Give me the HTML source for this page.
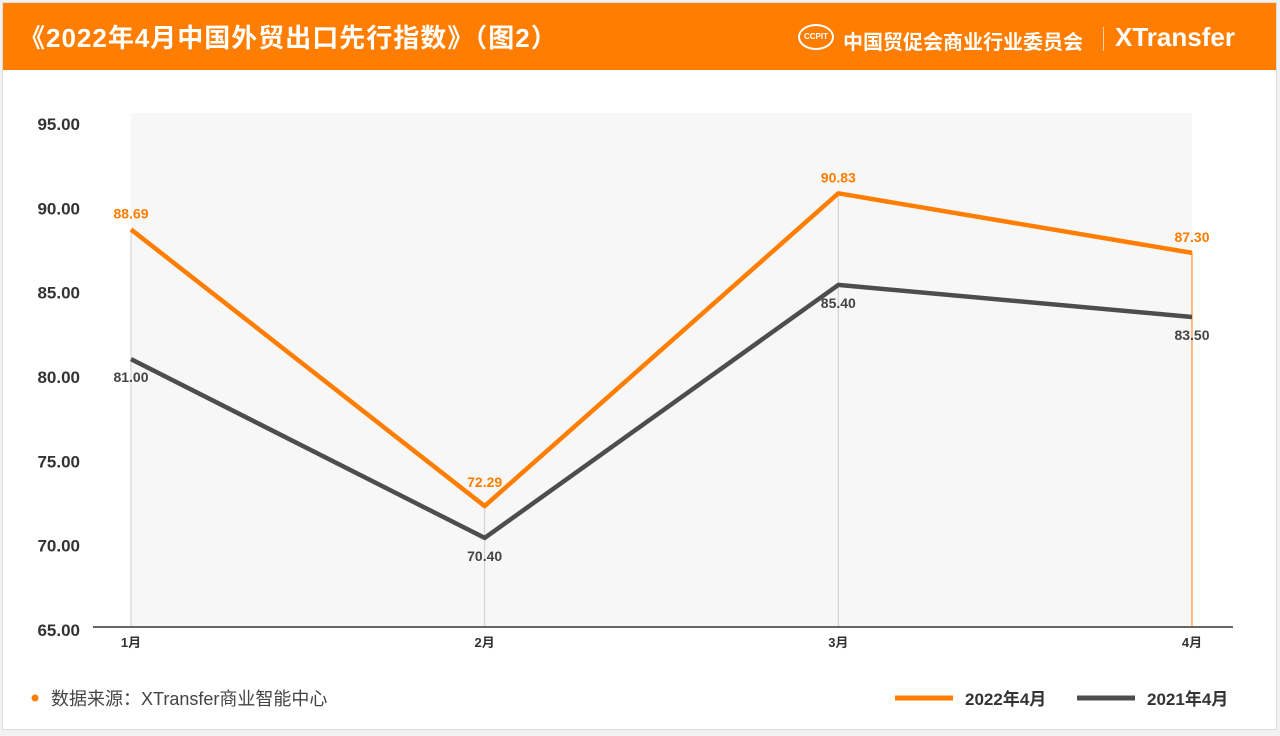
<!DOCTYPE html>
<html><head><meta charset="utf-8">
<style>
body{margin:0;width:1280px;height:736px;background:#f2f2f2;font-family:"Liberation Sans","Noto Sans CJK SC",sans-serif;overflow:hidden}
#card{position:absolute;left:2px;top:2px;width:1273px;height:726px;background:#fff;border:1px solid #ddd}
#hdr{position:absolute;left:0;top:0;width:1273px;height:67px;background:#ff7d00;color:#fff}
#title{position:absolute;left:16px;top:15px;font-size:26px;font-weight:bold;letter-spacing:1px}
#org{position:absolute;left:840px;top:23px;font-size:20px;font-weight:bold}
#sep{position:absolute;left:1100px;top:24px;width:1px;height:24px;background:#ffd0a0}
#xt{position:absolute;left:1112px;top:19px;font-size:26px;font-weight:bold}
#logo{position:absolute;left:795px;top:21px;width:36px;height:26px;border:2px solid #fff;border-radius:50%;box-sizing:border-box;font-size:8px;text-align:center;line-height:22px;font-weight:bold}
svg{position:absolute;left:0;top:0}
</style></head><body>
<div id="card">
<div id="hdr">
<div id="title">《2022年4月中国外贸出口先行指数》（图2）</div>
<div id="logo">CCPIT</div>
<div id="org">中国贸促会商业行业委员会</div>
<div id="sep"></div>
<div id="xt">XTransfer</div>
</div>
</div>
<svg id="chart" width="1280" height="736"></svg>
<script>
const categories=["1月","2月","3月","4月"];
const series2022=[88.69,72.29,90.83,87.30];
const series2021=[81.00,70.40,85.40,83.50];
const yTicks=[65,70,75,80,85,90,95];
const NS="http://www.w3.org/2000/svg";
const svg=document.getElementById('chart');
const x0=131,x1=1192,yMin=65,yMax=95,yB=629,yT=123;
const xs=i=>x0+i*(x1-x0)/(categories.length-1);
const ys=v=>yB-(v-yMin)/(yMax-yMin)*(yB-yT);
function el(t,a,txt){const e=document.createElementNS(NS,t);for(const k in a)e.setAttribute(k,a[k]);if(txt!==undefined)e.textContent=txt;svg.appendChild(e);return e;}
let e=el('rect',{x:x0,y:113,width:x1-x0,height:514,fill:'#f7f7f7'});


yTicks.forEach(t=>{const l=el('text',{x:80,y:ys(t)+7,'text-anchor':'end','font-size':17,fill:'#333','font-weight':'bold'},t.toFixed(2));

});
categories.forEach((c,i)=>{
const g=el('line',{x1:xs(i),x2:xs(i),y1:ys(series2022[i]),y2:627,stroke:i==3?'#ff7d00':'#ccc','stroke-width':1});


const l=el('text',{x:xs(i),y:647,'text-anchor':'middle','font-size':13,fill:'#333','font-weight':'bold'},c);

});
e=el('line',{x1:93,x2:1233,y1:627,y2:627,stroke:'#666','stroke-width':2});


function drawSeries(data,color,name,above){
const p=el('polyline',{points:data.map((v,i)=>xs(i)+','+ys(v)).join(' '),fill:'none',stroke:color,'stroke-width':4.5,'stroke-linejoin':'round'});


data.forEach((v,i)=>{const t=el('text',{x:xs(i),y:above?ys(v)-(i==1?19:11):ys(v)+23,'text-anchor':'middle','font-size':14,fill:above?'#ff7d00':'#444','font-weight':'bold'},v.toFixed(2));

});
}
drawSeries(series2021,'#4d4d4d','series-2021',false);
drawSeries(series2022,'#ff7d00','series-2022',true);
e=el('circle',{cx:35,cy:698,r:3.5,fill:'#ff7d00'});


e=el('text',{x:51,y:705,'font-size':18,fill:'#444'},'数据来源：XTransfer商业智能中心');


[['#ff7d00','2022年4月',895],['#4d4d4d','2021年4月',1077]].forEach(([c,t,x])=>{
const l=el('line',{x1:x,x2:x+58,y1:698,y2:698,stroke:c,'stroke-width':5});


const tx=el('text',{x:x+70,y:705,'font-size':17,fill:'#333','font-weight':'bold'},t);

});
</script>
</body></html>
